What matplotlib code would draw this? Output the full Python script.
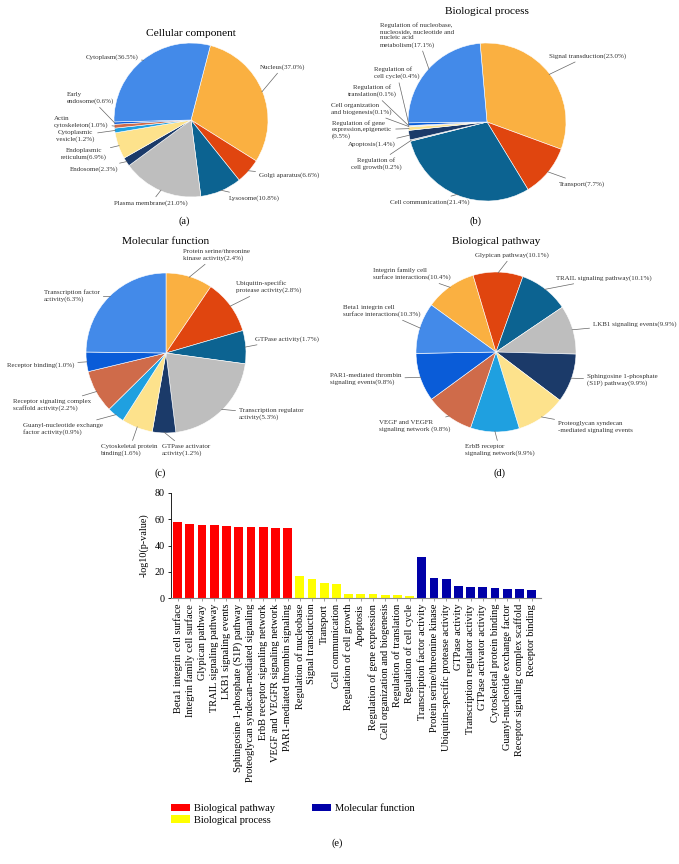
import numpy as np
import matplotlib.pyplot as plt
from matplotlib.patches import Patch

plt.rcParams['font.family'] = ['Liberation Serif', 'DejaVu Serif']

W, H = 679, 864

# ---- data ----
# pie slices listed clockwise, starting from the first colour of the palette
cc_labels = ['Nucleus(37.0%)', 'Golgi aparatus(6.6%)', 'Lysosome(10.8%)',
             'Plasma membrane(21.0%)', 'Endosome(2.3%)', 'Endoplasmic\nreticulum(6.9%)',
             'Cytoplasmic\nvesicle(1.2%)', 'Actin\ncytoskeleton(1.0%)',
             'Early\nendosome(0.6%)', 'Cytoplasm(36.5%)']
cc_values = [37.0, 6.6, 10.8, 21.0, 2.3, 6.9, 1.2, 1.0, 0.6, 36.5]

bp_labels = ['Signal transduction(23.0%)', 'Transport(7.7%)', 'Cell communication(21.4%)',
             'Regulation of\ncell growth(0.2%)', 'Apoptosis(1.4%)',
             'Regulation of gene\nexpression,epigenetic\n(0.5%)',
             'Cell organization\nand biogenesis(0.1%)', 'Regulation of\ntranslation(0.1%)',
             'Regulation of\ncell cycle(0.4%)',
             'Regulation of nucleobase,\nnucleoside, nucleotide and\nnucleic acid\nmetabolism(17.1%)']
bp_values = [23.0, 7.7, 21.4, 0.2, 1.4, 0.5, 0.1, 0.1, 0.4, 17.1]

mf_labels = ['Protein serine/threonine\nkinase activity(2.4%)', 'Ubiquitin-specific\nprotease activity(2.8%)',
             'GTPase activity(1.7%)', 'Transcription regulator\nactivity(5.3%)',
             'GTPase activator\nactivity(1.2%)', 'Cytoskeletal protein\nbinding(1.6%)',
             'Guanyl-nucleotide exchange\nfactor activity(0.9%)',
             'Receptor signaling complex\nscaffold activity(2.2%)', 'Receptor binding(1.0%)',
             'Transcription factor\nactivity(6.3%)']
mf_values = [2.4, 2.8, 1.7, 5.3, 1.2, 1.6, 0.9, 2.2, 1.0, 6.3]

pw_labels = ['Integrin family cell\nsurface interactions(10.4%)', 'Glypican pathway(10.1%)',
             'TRAIL signaling pathway(10.1%)', 'LKB1 signaling events(9.9%)',
             'Sphingosine 1-phosphate\n(S1P) pathway(9.9%)',
             'Proteoglycan syndecan\n-mediated signaling events',
             'ErbB receptor\nsignaling network(9.9%)', 'VEGF and VEGFR\nsignaling network (9.8%)',
             'PAR1-mediated thrombin\nsignaling events(9.8%)',
             'Beta1 integrin cell\nsurface interactions(10.3%)']
pw_values = [10.4, 10.1, 10.1, 9.9, 9.9, 10.0, 9.9, 9.8, 9.8, 10.3]

pathway_names = ['Beta1 integrin cell surface', 'Integrin family cell surface', 'Glypican pathway',
                 'TRAIL signaling pathway', 'LKB1 signaling events',
                 'Sphingosine 1-phosphate (S1P) pathway', 'Proteoglycan syndecan-mediated signaling',
                 'ErbB receptor signaling network', 'VEGF and VEGFR signaling network',
                 'PAR1-mediated thrombin signaling']
pathway_scores = [57.6, 56.3, 55.6, 55.3, 54.5, 54.3, 54.0, 53.8, 53.5, 53.5]

process_names = ['Regulation of nucleobase', 'Signal transduction', 'Transport', 'Cell communication',
                 'Regulation of cell growth', 'Apoptosis', 'Regulation of gene expression',
                 'Cell organization and biogenesis', 'Regulation of translation',
                 'Regulation of cell cycle']
process_scores = [16.7, 14.9, 11.9, 11.1, 3.5, 3.0, 3.0, 2.3, 2.3, 2.0]

function_names = ['Transcription factor activity', 'Protein serine/threonine kinase',
                  'Ubiquitin-specific protease activity', 'GTPase activity',
                  'Transcription regulator activity', 'GTPase activator activity',
                  'Cytoskeletal protein binding', 'Guanyl-nucleotide exchange factor',
                  'Receptor signaling complex scaffold', 'Receptor binding']
function_scores = [31.3, 15.2, 14.4, 9.6, 8.8, 8.3, 7.6, 7.1, 7.1, 6.3]

# ---- styling ----
PIE_COLORS = ['#FAB041', '#E0450F', '#0C6391', '#BEBEBE', '#1B3A69',
              '#FDE28C', '#1FA0E0', '#CF6B4A', '#0A5CD8', '#438AE9']
RED, YELLOW, BLUE = '#FF0000', '#FFFF00', '#0000A8'

# label anchors in figure pixels (x, y from top, alignment)
cc_pos = [(260, 67, 'left'), (259, 175, 'left'), (229, 198, 'left'), (151, 203, 'center'),
          (118, 169, 'right'), (84, 154, 'center'), (75, 136, 'center'), (54, 122, 'left'),
          (67, 98, 'left'), (138, 57, 'right')]
bp_pos = [(549, 56, 'left'), (559, 184, 'left'), (430, 202, 'center'), (376, 164, 'center'),
          (396, 144, 'right'), (332, 130, 'left'), (331, 109, 'left'), (372, 91, 'center'),
          (374, 73, 'left'), (380, 35, 'left')]
mf_pos = [(183, 255, 'left'), (236, 287, 'left'), (255, 339, 'left'), (239, 414, 'left'),
          (162, 450, 'left'), (101, 450, 'left'), (23, 429, 'left'), (13, 405, 'left'),
          (7, 365, 'left'), (44, 296, 'left')]
pw_pos = [(373, 274, 'left'), (512, 255, 'center'), (556, 278, 'left'), (593, 324, 'left'),
          (587, 380, 'left'), (558, 427, 'left'), (465, 450, 'left'), (379, 426, 'left'),
          (330, 379, 'left'), (343, 311, 'left')]

fig = plt.figure(figsize=(W / 100, H / 100), dpi=100)


def draw_pie(cx, cy, r, values, labels, positions, startangle, title, title_y, tag, tag_xy):
    ax = fig.add_axes([(cx - r) / W, 1 - (cy + r) / H, 2 * r / W, 2 * r / H])
    wedges, _ = ax.pie(values, colors=PIE_COLORS, startangle=startangle, counterclock=False,
                       wedgeprops=dict(edgecolor='white', linewidth=0.4))
    ax.set_xlim(-1, 1)
    ax.set_ylim(-1, 1)
    for w, lab, (px, py, ha) in zip(wedges, labels, positions):
        ang = np.deg2rad((w.theta1 + w.theta2) / 2)
        ax.annotate(lab, xy=(0.99 * np.cos(ang), 0.99 * np.sin(ang)),
                    xytext=((px - cx) / r, (cy - py) / r), ha=ha, va='center',
                    multialignment=ha, fontsize=5, color='#333333', linespacing=1.3,
                    arrowprops=dict(arrowstyle='-', color='#666666', lw=0.5,
                                    shrinkA=0.5, shrinkB=0))
    fig.text(cx / W, 1 - title_y / H, title, ha='center', va='center', fontsize=8.2)
    fig.text(tag_xy[0] / W, 1 - tag_xy[1] / H, tag, ha='center', va='center', fontsize=7.5)


draw_pie(191, 120, 77, cc_values, cc_labels, cc_pos, 75.4, 'Cellular component', 33, '(a)', (184, 221))
draw_pie(487, 122, 79, bp_values, bp_labels, bp_pos, 95, 'Biological process', 12, '(b)', (476, 221))
draw_pie(166, 353, 80, mf_values, mf_labels, mf_pos, 90, 'Molecular function', 241, '(c)', (160, 473))
draw_pie(496, 352, 80, pw_values, pw_labels, pw_pos, 144, 'Biological pathway', 242, '(d)', (499, 473))

# ---- bar chart (e) ----
names = pathway_names + process_names + function_names
scores = pathway_scores + process_scores + function_scores
colors = ([RED] * len(pathway_names) + [YELLOW] * len(process_names)
          + [BLUE] * len(function_names))

ax = fig.add_axes([170.7 / W, 1 - 598.3 / H, 370 / W, 105.6 / H])
x = np.arange(len(names))
ax.bar(x, scores, width=0.72, color=colors)
ax.set_xlim(-0.57, len(names) - 0.26)
ax.set_ylim(0, 80)
ax.set_yticks([0, 20, 40, 60, 80])
ax.set_xticks(x)
ax.set_xticklabels(names, rotation=90, fontsize=7.5)
ax.tick_params(axis='y', labelsize=7.3, length=2.5, width=0.6, pad=2)
ax.tick_params(axis='x', length=2, width=0.5, color='#777777', pad=2)
ax.set_ylabel('-log10(p-value)', fontsize=7.3, labelpad=4)
for s in ['top', 'right']:
    ax.spines[s].set_visible(False)
ax.spines['left'].set_linewidth(0.6)
ax.spines['bottom'].set_linewidth(0.8)
ax.spines['bottom'].set_color('#888888')

handles = [Patch(facecolor=RED), Patch(facecolor=YELLOW), Patch(facecolor=BLUE)]
fig.legend(handles, ['Biological pathway', 'Biological process', 'Molecular function'],
           loc='upper left', bbox_to_anchor=(171 / W, 1 - 804 / H), ncol=2, frameon=False,
           fontsize=7.5, handlelength=1.8, handleheight=0.7, columnspacing=3.6,
           labelspacing=0.2, handletextpad=0.4, borderpad=0, borderaxespad=0)
fig.text(337 / W, 1 - 843 / H, '(e)', ha='center', va='center', fontsize=7.5)

fig.savefig('out.png', dpi=100)
